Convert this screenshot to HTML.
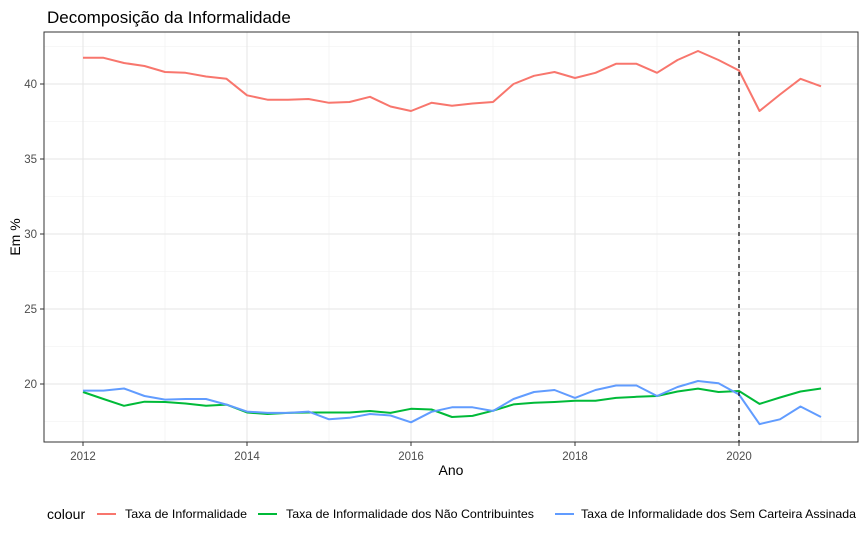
<!DOCTYPE html>
<html><head><meta charset="utf-8">
<style>
body{margin:0;background:#fff;font-family:"Liberation Sans",sans-serif;}
svg text{font-family:"Liberation Sans",sans-serif;}
</style></head>
<body>
<svg id="chart" width="866" height="540" xmlns="http://www.w3.org/2000/svg">
<rect width="866" height="540" fill="#fff"/>
<text x="47" y="23" font-size="17" fill="#000">Decomposição da Informalidade</text>
<g id="grid"></g>
<g id="series"></g>
<rect x="44" y="32" width="814" height="410" fill="none" stroke="#333" stroke-width="1"/>
<g id="axes"></g>
<text x="451" y="475" font-size="14" text-anchor="middle">Ano</text>
<text transform="translate(20,237) rotate(-90)" font-size="14" text-anchor="middle">Em %</text>
<g id="legend">
<text x="47" y="519" font-size="14">colour</text>
<line x1="97" y1="514" x2="116" y2="514" stroke="#F8766D" stroke-width="2"/>
<text x="125" y="518" font-size="12" textLength="122" lengthAdjust="spacingAndGlyphs">Taxa de Informalidade</text>
<line x1="258" y1="514" x2="277" y2="514" stroke="#00BA38" stroke-width="2"/>
<text x="286" y="518" font-size="12" textLength="248" lengthAdjust="spacingAndGlyphs">Taxa de Informalidade dos Não Contribuintes</text>
<line x1="555" y1="514" x2="574" y2="514" stroke="#619CFF" stroke-width="2"/>
<text x="581" y="518" font-size="12" textLength="275" lengthAdjust="spacingAndGlyphs">Taxa de Informalidade dos Sem Carteira Assinada</text>
</g>
</svg>
<script>
const years = [2012,2012.25,2012.5,2012.75,2013,2013.25,2013.5,2013.75,2014,2014.25,2014.5,2014.75,2015,2015.25,2015.5,2015.75,2016,2016.25,2016.5,2016.75,2017,2017.25,2017.5,2017.75,2018,2018.25,2018.5,2018.75,2019,2019.25,2019.5,2019.75,2020,2020.25,2020.5,2020.75,2021];
const informalidade = [41.75,41.75,41.4,41.2,40.8,40.75,40.5,40.35,39.25,38.95,38.95,39.0,38.75,38.8,39.15,38.5,38.2,38.75,38.55,38.7,38.8,40.0,40.55,40.8,40.4,40.75,41.35,41.35,40.75,41.6,42.2,41.6,40.9,38.2,39.3,40.35,39.85];
const naoContribuintes = [19.47,19.0,18.55,18.82,18.8,18.7,18.55,18.63,18.1,18.0,18.07,18.1,18.1,18.1,18.2,18.07,18.35,18.3,17.8,17.87,18.22,18.64,18.75,18.8,18.88,18.88,19.07,19.15,19.2,19.5,19.69,19.47,19.53,18.67,19.1,19.5,19.7];
const semCarteira = [19.56,19.56,19.7,19.2,18.96,19.0,19.0,18.63,18.16,18.07,18.07,18.16,17.65,17.75,18.0,17.9,17.45,18.15,18.45,18.45,18.2,19.0,19.47,19.6,19.07,19.6,19.9,19.9,19.2,19.8,20.2,20.05,19.3,17.33,17.65,18.5,17.8];
const xTicks = [2012,2014,2016,2018,2020];
const xMinor = [2013,2015,2017,2019,2021];
const yTicks = [20,25,30,35,40];
const yMinor = [17.5,22.5,27.5,32.5,37.5,42.5];
const vline = 2020;

const NS = "http://www.w3.org/2000/svg";
const xs = v => 83 + (v - 2012) * 82;
const ys = v => 384 - (v - 20) * 15;
function mk(tag, attrs, parent){const e=document.createElementNS(NS,tag);for(const k in attrs)e.setAttribute(k,attrs[k]);parent.appendChild(e);return e;}
const grid=document.getElementById('grid'), ser=document.getElementById('series'), ax=document.getElementById('axes');
yMinor.forEach(v=>{const l=mk('line',{x1:44,x2:858,y1:ys(v),y2:ys(v),stroke:'#f0f0f0','stroke-width':0.6},grid);

});
xMinor.forEach(v=>{const l=mk('line',{x1:xs(v),x2:xs(v),y1:32,y2:442,stroke:'#f0f0f0','stroke-width':0.6},grid);

});
yTicks.forEach(v=>{const l=mk('line',{x1:44,x2:858,y1:ys(v),y2:ys(v),stroke:'#e6e6e6','stroke-width':1},grid);


const t=mk('line',{x1:40,x2:44,y1:ys(v),y2:ys(v),stroke:'#333'},ax);


const tx=mk('text',{x:37,y:ys(v)+4,'font-size':11.5,fill:'#4d4d4d','text-anchor':'end'},ax);tx.textContent=v;

});
xTicks.forEach(v=>{const l=mk('line',{x1:xs(v),x2:xs(v),y1:32,y2:442,stroke:'#e6e6e6','stroke-width':1},grid);


const t=mk('line',{x1:xs(v),x2:xs(v),y1:442,y2:446,stroke:'#333'},ax);


const tx=mk('text',{x:xs(v),y:460,'font-size':11.5,fill:'#4d4d4d','text-anchor':'middle'},ax);tx.textContent=v;

});
function line(vals,color,name){const d=vals.map((v,i)=>(i?'L':'M')+xs(years[i]).toFixed(1)+','+ys(v).toFixed(1)).join('');
const p=mk('path',{d:d,fill:'none',stroke:color,'stroke-width':2,'stroke-linejoin':'round'},ser);

}
line(informalidade,'#F8766D','line-informalidade');
line(naoContribuintes,'#00BA38','line-nao-contribuintes');
line(semCarteira,'#619CFF','line-sem-carteira');
const vl=mk('line',{x1:xs(vline),x2:xs(vline),y1:32,y2:442,stroke:'#000','stroke-width':1.2,'stroke-dasharray':'4,4'},ser);


</script>
</body></html>
